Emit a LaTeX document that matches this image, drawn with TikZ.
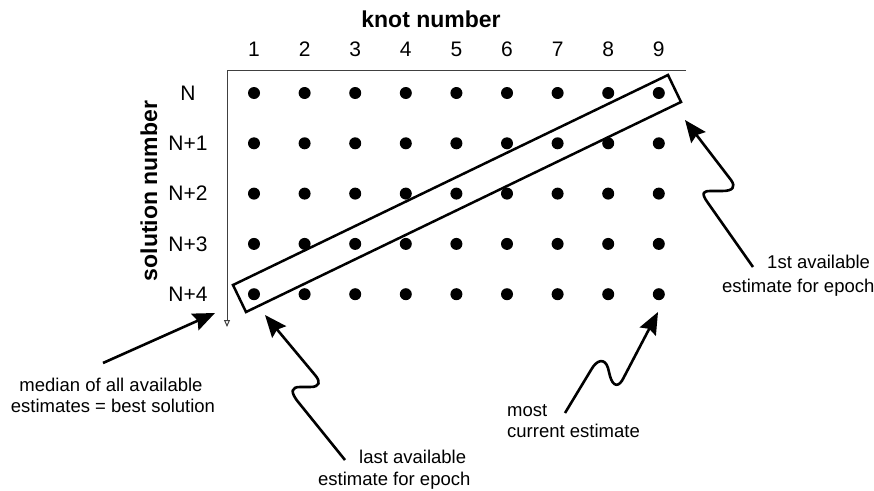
\documentclass[tikz,border=0pt]{standalone}
\usepackage{fontspec}
\setmainfont{Liberation Sans}
\usetikzlibrary{arrows.meta}
\begin{document}
\begin{tikzpicture}[x=1pt,y=-1pt,
  dot/.style={circle,fill=black,inner sep=0pt,minimum size=12pt},
  lbl/.style={font=\fontsize{21}{25}\selectfont,inner sep=0pt},
  ttl/.style={font=\fontsize{23}{27}\selectfont\bfseries,inner sep=0pt},
  note/.style={font=\fontsize{18.5}{22}\selectfont,inner sep=0pt,anchor=base west},
  pointer/.style={line width=2.6pt,line join=round,-{Stealth[length=22pt,width=18pt,inset=3pt]}},
  axis/.style={line width=1pt,black!75},
  frame/.style={line width=2.5pt,line join=miter}]
\useasboundingbox (0,0) rectangle (874,490);
% titles
\node[ttl,anchor=base] (kn) at (431,27) {knot number};
\node[ttl,rotate=90] (sn) at (149,191) {solution number};
% column numbers and dots
\foreach \i in {1,...,9}{
  \node[lbl,anchor=base] (c\i) at ({254+50.6*(\i-1)},56) {\i};
  \foreach \j in {0,...,4}
    \node[dot] (d-\i-\j) at ({254+50.6*(\i-1)},{93+50.3*\j}) {};
}
% row labels
\foreach \j/\t in {0/N,1/N+1,2/N+2,3/N+3,4/N+4}
  \node[lbl] (r\j) at (188,{93+50.3*\j}) {\t};
% axes
\coordinate (o) at (227,70);
\coordinate (xe) at (686,70);
\coordinate (ye) at (227,327);
\draw[axis] (xe) -- (o);
\draw[axis,-{Triangle[open,length=7pt,width=6pt]}] (o) -- (ye);
% diagonal frame
\coordinate (fa) at (233,285);
\coordinate (fb) at (246,312);
\coordinate (fc) at (681,102);
\coordinate (fd) at (668,75);
\draw[frame] (fa) -- (fb) -- (fc) -- (fd) -- cycle;
% annotations
\node[note] (t1a) at (767,268) {1st available};
\node[note] (t1b) at (722,292) {estimate for epoch};
\node[note] (t2a) at (507,416) {most};
\node[note] (t2b) at (507,437) {current estimate};
\node[note] (t3a) at (359,463) {last available};
\node[note] (t3b) at (318,485) {estimate for epoch};
\node[note,anchor=base] (t4a) at (111,391) {median of all available};
\node[note,anchor=base] (t4b) at (113,412) {estimates = best solution};
% arrows
\coordinate (p1s) at (753,267);
\coordinate (p1e) at (685,120);
\draw[pointer] (p1s) -- (708,203) .. controls (700,192) and (704,191) .. (711,191)
  -- (722,191) .. controls (733,191) and (736,187) .. (731,180) -- (p1e);
\coordinate (p2s) at (565,413);
\coordinate (p2e) at (658,312);
\draw[pointer] (p2s) -- (591,370) .. controls (597,359) and (605,358) .. (608,368)
  -- (610,376) .. controls (613,387) and (619,388) .. (624,377) -- (p2e);
\coordinate (p3s) at (345,460);
\coordinate (p3e) at (265,315);
\draw[pointer] (p3s) -- (299,403) .. controls (289,391) and (292,387) .. (300,387)
  -- (310,387) .. controls (320,387) and (321,382) .. (315,375) -- (p3e);
\coordinate (p4s) at (103,363);
\coordinate (p4e) at (215,313);
\draw[pointer] (p4s) -- (p4e);
\end{tikzpicture}
\end{document}
